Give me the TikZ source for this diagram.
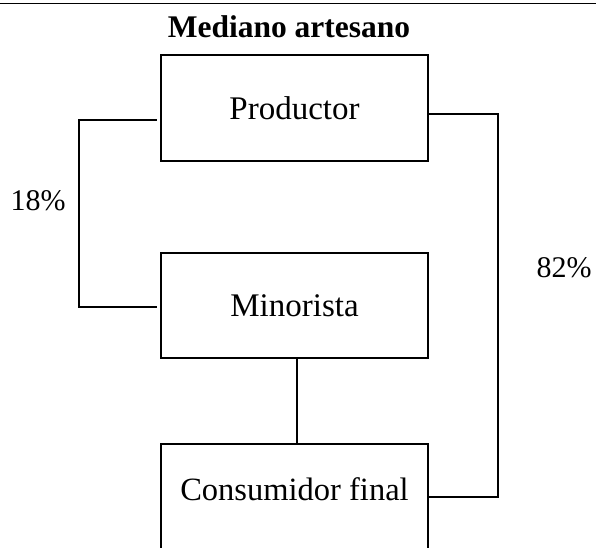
\documentclass[tikz,border=0pt]{standalone}
\usepackage{fontspec}
\setmainfont{Liberation Serif}
\begin{document}
\begin{tikzpicture}[x=1pt,y=-1pt,
  box/.style={draw, line width=2.6pt, minimum width=267pt, minimum height=106pt,
    inner sep=0pt, text depth=0pt, font=\fontsize{33}{36}\selectfont},
  openbox/.style={line width=2.6pt, minimum width=267pt, minimum height=90pt,
    inner sep=0pt, outer sep=0pt, text depth=0pt, font=\fontsize{32.5}{36}\selectfont},
  boxline/.style={line width=2.6pt},
  conn/.style={line width=1.6pt},
  lbl/.style={font=\fontsize{30}{34}\selectfont, inner sep=0pt},
  ttl/.style={font=\bfseries\fontsize{31.5}{34}\selectfont, inner sep=0pt}]
\useasboundingbox (0,0) rectangle (596,547);
\draw[line width=1.8pt] (0,3.5) -- (596,3.5);
\node[ttl, anchor=base] (title) at (289,37) {Mediano artesano};
\node[box] (prod) at (294.5,108) {Productor};
\node[box, minimum height=105pt] (mino) at (294.5,305.5) {Minorista};
\node[openbox] (cons) at (294.5,489) {Consumidor final};
\draw[boxline] ([yshift=-30pt]cons.south west) -- (cons.north west) -- (cons.north east) -- ([yshift=-30pt]cons.south east);
\node[lbl, anchor=base] (p18) at (38,210) {18\%};
\node[lbl, anchor=base] (p82) at (564,277) {82\%};
\draw[conn, shorten <=3pt, shorten >=3pt] ([yshift=-12pt]prod.west) -- ++(-81,0) |- ([yshift=-1.5pt]mino.west);
\draw[conn] ([yshift=-6pt]prod.east) -- ++(68.7,0) |- ([yshift=-8pt]cons.east);
\draw[conn] ([xshift=2.5pt]mino.south) -- ([xshift=2.5pt]cons.north);
\end{tikzpicture}
\end{document}
